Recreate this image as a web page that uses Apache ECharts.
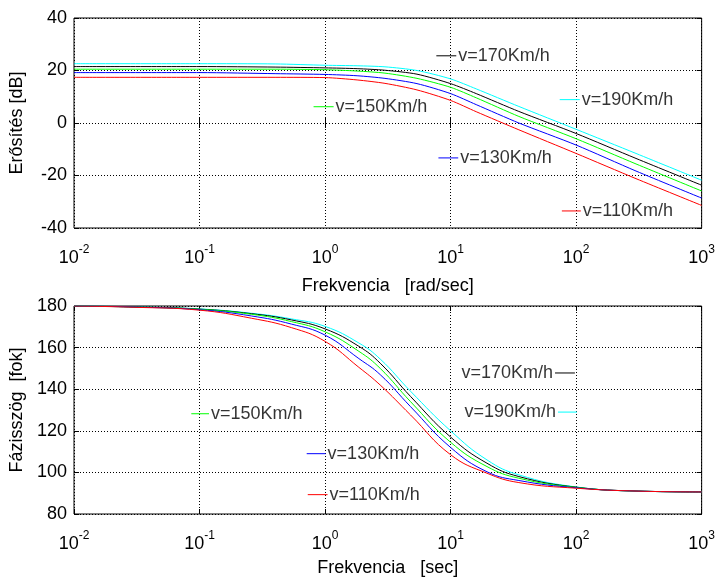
<!DOCTYPE html>
<html>
<head>
<meta charset="utf-8">
<script src="https://cdn.jsdelivr.net/npm/echarts@6/dist/echarts.min.js"></script>
<style>
html,body{margin:0;padding:0;background:#fff;}
#chart{width:718px;height:578px;}
</style>
</head>
<body>
<div id="chart"></div>
<script>
// ---------- DATA ----------
const seriesNames = ['v=190Km/h', 'v=170Km/h', 'v=150Km/h', 'v=130Km/h', 'v=110Km/h'];

// Magnitude plot (frequency in rad/sec, gain in dB)
const magFreq = [0.01, 0.1, 0.4, 1, 1.8, 3, 5.4, 10, 16, 35, 100, 300, 1000];
const mag190 = [22.6, 22.6, 22.5, 22.0, 21.8, 21.4, 20.0, 16.8, 13.0, 6.3, -2.4, -11.6, -21.8];
const mag170 = [21.5, 21.5, 21.3, 21.0, 20.7, 20.1, 18.6, 15.0, 11.2, 4.4, -4.0, -13.5, -23.7];
const mag150 = [20.5, 20.5, 20.5, 20.3, 19.8, 19.0, 17.0, 13.6, 9.6, 2.5, -6.0, -15.6, -25.9];
const mag130 = [19.2, 19.2, 18.8, 18.5, 18.0, 17.0, 15.0, 11.2, 7.0, 0.0, -8.4, -18.3, -28.6];
const mag110 = [17.4, 17.4, 17.4, 17.3, 16.4, 15.1, 12.6, 8.6, 4.3, -2.6, -11.6, -21.2, -31.4];

// Phase plot (frequency, phase in degrees)
const phFreq = [0.01, 0.03, 0.1, 0.26, 0.54, 1, 1.86, 2.75, 4.8, 10, 19.5, 35, 100, 316, 1000];
const ph190 = [180, 179.6, 178.6, 176.5, 173.8, 170.2, 162.2, 154.5, 139.0, 120.0, 106.0, 98.8, 93.0, 91.0, 90.6];
const ph170 = [180, 179.6, 178.5, 176.3, 173.3, 169.0, 160.6, 152.5, 136.5, 117.0, 104.4, 98.0, 92.9, 91.0, 90.6];
const ph150 = [180, 179.5, 178.4, 176.0, 172.5, 167.6, 158.2, 150.0, 134.0, 114.5, 102.8, 97.2, 92.8, 91.0, 90.6];
const ph130 = [180, 179.5, 178.2, 175.2, 171.3, 166.0, 154.7, 147.0, 131.6, 112.0, 100.3, 96.1, 92.6, 91.0, 90.6];
const ph110 = [180, 179.4, 178.0, 174.1, 169.6, 163.0, 150.5, 142.0, 127.6, 108.5, 99.6, 95.1, 92.4, 91.0, 90.6];

// Axis ranges / ticks
const xMin = 0.01, xMax = 1000;
const magTicks = [-40, -20, 0, 20, 40];
const phTicks = [80, 100, 120, 140, 160, 180];

// In-plot annotations (data coordinates)
const magNotes = [
  {name: 'v=170Km/h', seg: [7.7, 11.1], y: 25.6, side: 'right'},
  {name: 'v=150Km/h', seg: [0.81, 1.17], y: 6.2, side: 'right'},
  {name: 'v=190Km/h', seg: [74, 107], y: 8.9, side: 'right'},
  {name: 'v=130Km/h', seg: [8.0, 11.5], y: -13.3, side: 'right'},
  {name: 'v=110Km/h', seg: [77, 109], y: -33.5, side: 'right'}
];
const phNotes = [
  {name: 'v=150Km/h', seg: [0.086, 0.119], y: 128.2, side: 'right'},
  {name: 'v=130Km/h', seg: [0.714, 1.01], y: 109, side: 'right'},
  {name: 'v=110Km/h', seg: [0.728, 1.047], y: 89.3, side: 'right'},
  {name: 'v=170Km/h', seg: [67.9, 97.8], y: 147.8, side: 'left'},
  {name: 'v=190Km/h', seg: [71.7, 101.6], y: 129, side: 'left'}
];

const colors = {
  'v=190Km/h': '#00ffff',
  'v=170Km/h': '#000000',
  'v=150Km/h': '#00ff00',
  'v=130Km/h': '#0000ff',
  'v=110Km/h': '#ff0000'
};

// ---------- CHART ----------
const FONT = '"Liberation Sans", Arial, sans-serif';
const chart = echarts.init(document.getElementById('chart'), null, {renderer: 'canvas'});

function xLabel(v) {
  const e = Math.round(Math.log10(v));
  return '{b|10}{s|' + e + '}';
}
const richX = {
  b: {fontSize: 18, fontFamily: FONT, color: '#000', lineHeight: 28},
  s: {fontSize: 12, fontFamily: FONT, color: '#000', verticalAlign: 'top', lineHeight: 14}
};
const gridLine = {show: true, lineStyle: {color: '#000', width: 1, type: [1, 2]}};

function mainX(gridIndex, name, gap) {
  return {
    type: 'log', logBase: 10, min: xMin, max: xMax, gridIndex: gridIndex,
    name: name, nameLocation: 'middle', nameGap: gap,
    nameTextStyle: {fontSize: 18, fontFamily: FONT, color: '#000'},
    axisLine: {show: false},
    axisTick: {show: true, inside: true, length: 5, lineStyle: {color: '#000'}},
    minorTick: {show: false},
    axisLabel: {formatter: xLabel, rich: richX, margin: 16, color: '#000'},
    splitLine: gridLine
  };
}
function topX(gridIndex) {
  return {
    type: 'log', logBase: 10, min: xMin, max: xMax, gridIndex: gridIndex, position: 'top',
    axisLine: {show: false},
    axisTick: {show: true, inside: true, length: 5, lineStyle: {color: '#000'}},
    axisLabel: {show: false}, splitLine: {show: false}
  };
}
function mainY(gridIndex, name, ticks) {
  return {
    type: 'value', gridIndex: gridIndex, min: ticks[0], max: ticks[ticks.length - 1],
    interval: ticks[1] - ticks[0],
    name: name, nameLocation: 'middle', nameGap: 48,
    nameTextStyle: {fontSize: 18, fontFamily: FONT, color: '#000'},
    axisLine: {show: false},
    axisTick: {show: true, inside: true, length: 5, lineStyle: {color: '#000'}},
    axisLabel: {fontSize: 18, fontFamily: FONT, color: '#000', margin: 7},
    splitLine: gridLine
  };
}
function rightY(gridIndex, ticks) {
  return {
    type: 'value', gridIndex: gridIndex, position: 'right', min: ticks[0], max: ticks[ticks.length - 1],
    interval: ticks[1] - ticks[0],
    axisLine: {show: false},
    axisTick: {show: true, inside: true, length: 5, lineStyle: {color: '#000'}},
    axisLabel: {show: false}, splitLine: {show: false}
  };
}

function curve(name, xs, ys, axisIdx, sm) {
  return {
    type: 'line', name: name, xAxisIndex: axisIdx, yAxisIndex: axisIdx,
    data: xs.map((x, i) => [x, ys[i]]),
    smooth: sm, showSymbol: false, symbol: 'none',
    lineStyle: {color: colors[name], width: 1}, z: 3, silent: true
  };
}
function noteSeries(notes, axisIdx) {
  const out = [];
  notes.forEach(n => {
    out.push({
      type: 'line', xAxisIndex: axisIdx, yAxisIndex: axisIdx,
      data: [[n.seg[0], n.y], [n.seg[1], n.y]], symbol: 'none',
      lineStyle: {color: colors[n.name], width: 1}, z: 4, silent: true
    });
    out.push({
      type: 'scatter', xAxisIndex: axisIdx, yAxisIndex: axisIdx,
      data: [[n.side === 'right' ? n.seg[1] : n.seg[0], n.y]],
      symbolSize: 0, z: 5, silent: true,
      label: {show: true, position: n.side, distance: 2, formatter: n.name,
        fontSize: 18, fontFamily: FONT, color: '#000'}
    });
  });
  return out;
}

const magSeries = [
  curve('v=190Km/h', magFreq, mag190, 0, 0.25),
  curve('v=170Km/h', magFreq, mag170, 0, 0.25),
  curve('v=150Km/h', magFreq, mag150, 0, 0.25),
  curve('v=130Km/h', magFreq, mag130, 0, 0.25),
  curve('v=110Km/h', magFreq, mag110, 0, 0.25)
];
const phSeries = [
  curve('v=190Km/h', phFreq, ph190, 1, 0.45),
  curve('v=170Km/h', phFreq, ph170, 1, 0.45),
  curve('v=150Km/h', phFreq, ph150, 1, 0.45),
  curve('v=130Km/h', phFreq, ph130, 1, 0.45),
  curve('v=110Km/h', phFreq, ph110, 1, 0.45)
];

const option = {
  animation: false,
  backgroundColor: '#fff',
  grid: [
    {left: 73, top: 18, width: 629, height: 210, show: true, borderColor: '#000', borderWidth: 1, backgroundColor: '#fff'},
    {left: 73, top: 306, width: 629, height: 208, show: true, borderColor: '#000', borderWidth: 1, backgroundColor: '#fff'}
  ],
  xAxis: [
    mainX(0, 'Frekvencia   [rad/sec]', 49),
    mainX(1, 'Frekvencia   [sec]', 45),
    topX(0), topX(1)
  ],
  yAxis: [
    mainY(0, 'Erősítés [dB]', magTicks),
    mainY(1, 'Fázisszög  [fok]', phTicks),
    rightY(0, magTicks), rightY(1, phTicks)
  ],
  series: magSeries.concat(phSeries, noteSeries(magNotes, 0), noteSeries(phNotes, 1))
};
chart.setOption(option);
</script>
</body>
</html>
